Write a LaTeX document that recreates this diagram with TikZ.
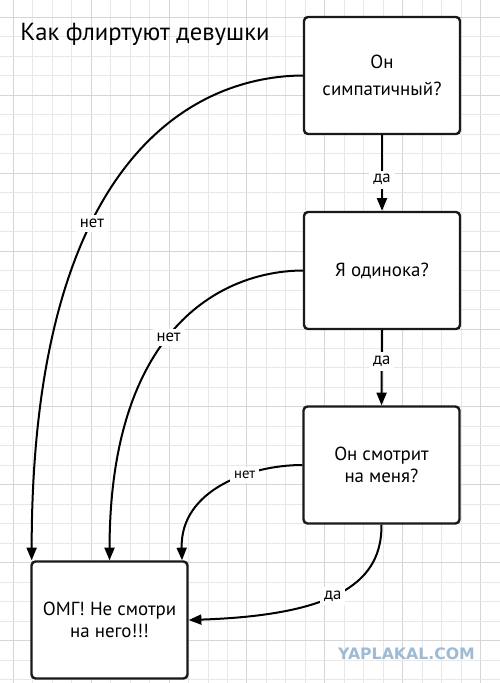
\documentclass[tikz,border=0pt]{standalone}
\usepackage{fontspec}
\setmainfont{PT Sans}
\newfontfamily\wmfont{DejaVu Sans}
\usetikzlibrary{arrows.meta,calc}
\definecolor{gridminor}{HTML}{E8E8E8}
\definecolor{gridmajor}{HTML}{D6D6D6}
\definecolor{wmblue}{HTML}{9DBBD5}
\tikzset{
  box/.style={draw=black!90, line width=1.8pt, rounded corners=3pt, fill=white,
    minimum width=117pt, minimum height=87.75pt, inner sep=0pt, align=center,
    font=\fontsize{14.2}{17}\selectfont},
  conn/.style={line width=1.5pt, -{Triangle[length=9.5pt,width=7.5pt]}},
  lbl/.style={fill=white, inner sep=3pt, font=\fontsize{12.5}{14}\selectfont},
}
\begin{document}
\begin{tikzpicture}[x=0.75pt,y=-0.75pt]
\useasboundingbox (0,0) rectangle (500,683);
\fill[white] (0,0) rectangle (500,683);
% grid
\foreach \k in {0,...,25}{
  \pgfmathtruncatemacro\mm{mod(\k,4)}
  \ifnum\mm=0 \def\gc{gridmajor}\else\def\gc{gridminor}\fi
  \draw[\gc, line width=0.75pt] ({13.3+19.47*\k},0) -- ({13.3+19.47*\k},683);
}
\foreach \k in {0,...,34}{
  \pgfmathtruncatemacro\mm{mod(\k,4)}
  \ifnum\mm=0 \def\gc{gridmajor}\else\def\gc{gridminor}\fi
  \draw[\gc, line width=0.75pt] (0,{17.5+19.47*\k}) -- (500,{17.5+19.47*\k});
}
% title
\node[anchor=base west, font=\fontsize{18.5}{22}\selectfont, inner sep=0pt] (title) at (20,40) {Как флиртуют девушки};
% boxes
\node[box] (q1) at (382,75.5) {Он\\[3pt]симпатичный?};
\node[box] (q2) at (382,270.5) {Я одинока?};
\node[box] (q3) at (381.5,465) {Он смотрит\\на меня?};
\node[box] (res) at (109.5,620) {ОМГ! Не смотри\\на него!!!};
% connectors
\draw[conn] (q1.south) -- node[lbl,pos=0.59]{да} (q2.north);
\draw[conn] (q2.south) -- node[lbl,pos=0.42]{да} (q3.north);
\draw[conn] (q1.west) .. controls (200,76) and (32,150) .. node[lbl,pos=0.62]{нет} ([xshift=1pt]res.north west);
\draw[conn] (q2.west) .. controls (220,271) and (110,330) .. node[lbl,pos=0.53]{нет} (res.north);
\draw[conn] (q3.west) .. controls (250,465) and (180,490) .. node[lbl,pos=0.35,font=\fontsize{11}{12}\selectfont]{нет} ([xshift=-5pt]res.north east);
\draw[conn] (q3.south) .. controls (382,580) and (340,615) .. node[lbl,pos=0.55]{да} (res.east);
% watermark
\node[font=\wmfont\bfseries\fontsize{11.8}{13}\selectfont, text=wmblue, inner sep=0pt] (wm) at (406.5,653.5) {YAPLAKAL.COM};
\end{tikzpicture}
\end{document}
